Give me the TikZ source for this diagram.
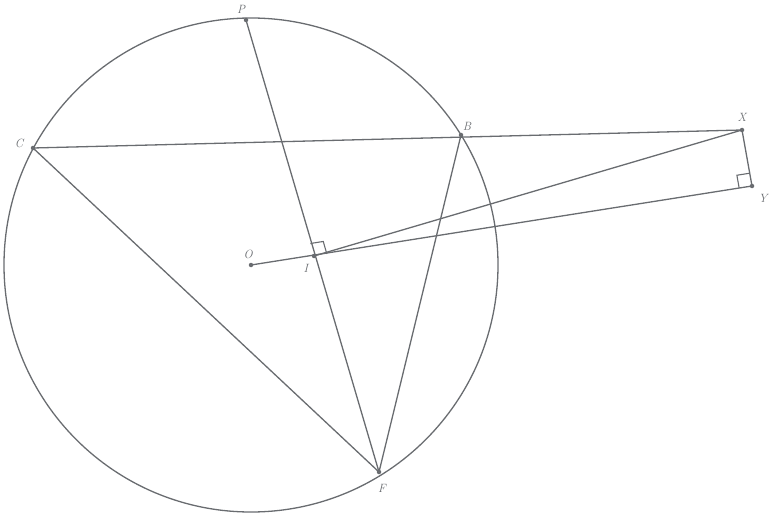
\documentclass[tikz,border=0pt]{standalone}
\usetikzlibrary{calc}
\definecolor{lc}{RGB}{105,108,112}
\begin{document}
\begin{tikzpicture}[x=1pt,y=-1pt,
  ln/.style={draw=lc,line width=1.3pt},
  pt/.style={circle,fill=lc,inner sep=0pt,minimum size=4.5pt},
  lab/.style={text=lc,font=\large\itshape,inner sep=1pt}]
\useasboundingbox (0,0) rectangle (774,516);
\coordinate (O) at (251,265);
\coordinate (P) at (246,20);
\coordinate (C) at (33,148);
\coordinate (B) at (461,135);
\coordinate (X) at (742,130);
\coordinate (Y) at (752,186);
\coordinate (I) at (314,256);
\coordinate (F) at (379,472);
\draw[ln] (O) circle (247);
\draw[ln] (P) -- (F);
\draw[ln] (C) -- (F);
\draw[ln] (B) -- (F);
\draw[ln] (C) -- (X);
\draw[ln] (X) -- (Y);
\draw[ln] (X) -- (I);
\draw[ln] (O) -- (Y);
% right angle marks
\draw[ln,line width=1.1pt] ($(I)!13pt!(P)$) -- ($(I)!13pt!(P)+(I)!13pt!(Y)-(I)$) -- ($(I)!13pt!(Y)$);
\draw[ln,line width=1.1pt] ($(Y)!13pt!(X)$) -- ($(Y)!13pt!(X)+(Y)!13pt!(I)-(Y)$) -- ($(Y)!13pt!(I)$);
\foreach \p in {O,P,C,B,X,Y,I,F} \node[pt] (n\p) at (\p) {};
\node[lab] (lP) at (241,9) {P};
\node[lab] (lC) at (19,143) {C};
\node[lab] (lB) at (467,126) {B};
\node[lab] (lX) at (742,117) {X};
\node[lab] (lY) at (763,198) {Y};
\node[lab] (lO) at (248,254) {O};
\node[lab] (lI) at (306,268) {I};
\node[lab] (lF) at (382,488) {F};
\end{tikzpicture}
\end{document}
